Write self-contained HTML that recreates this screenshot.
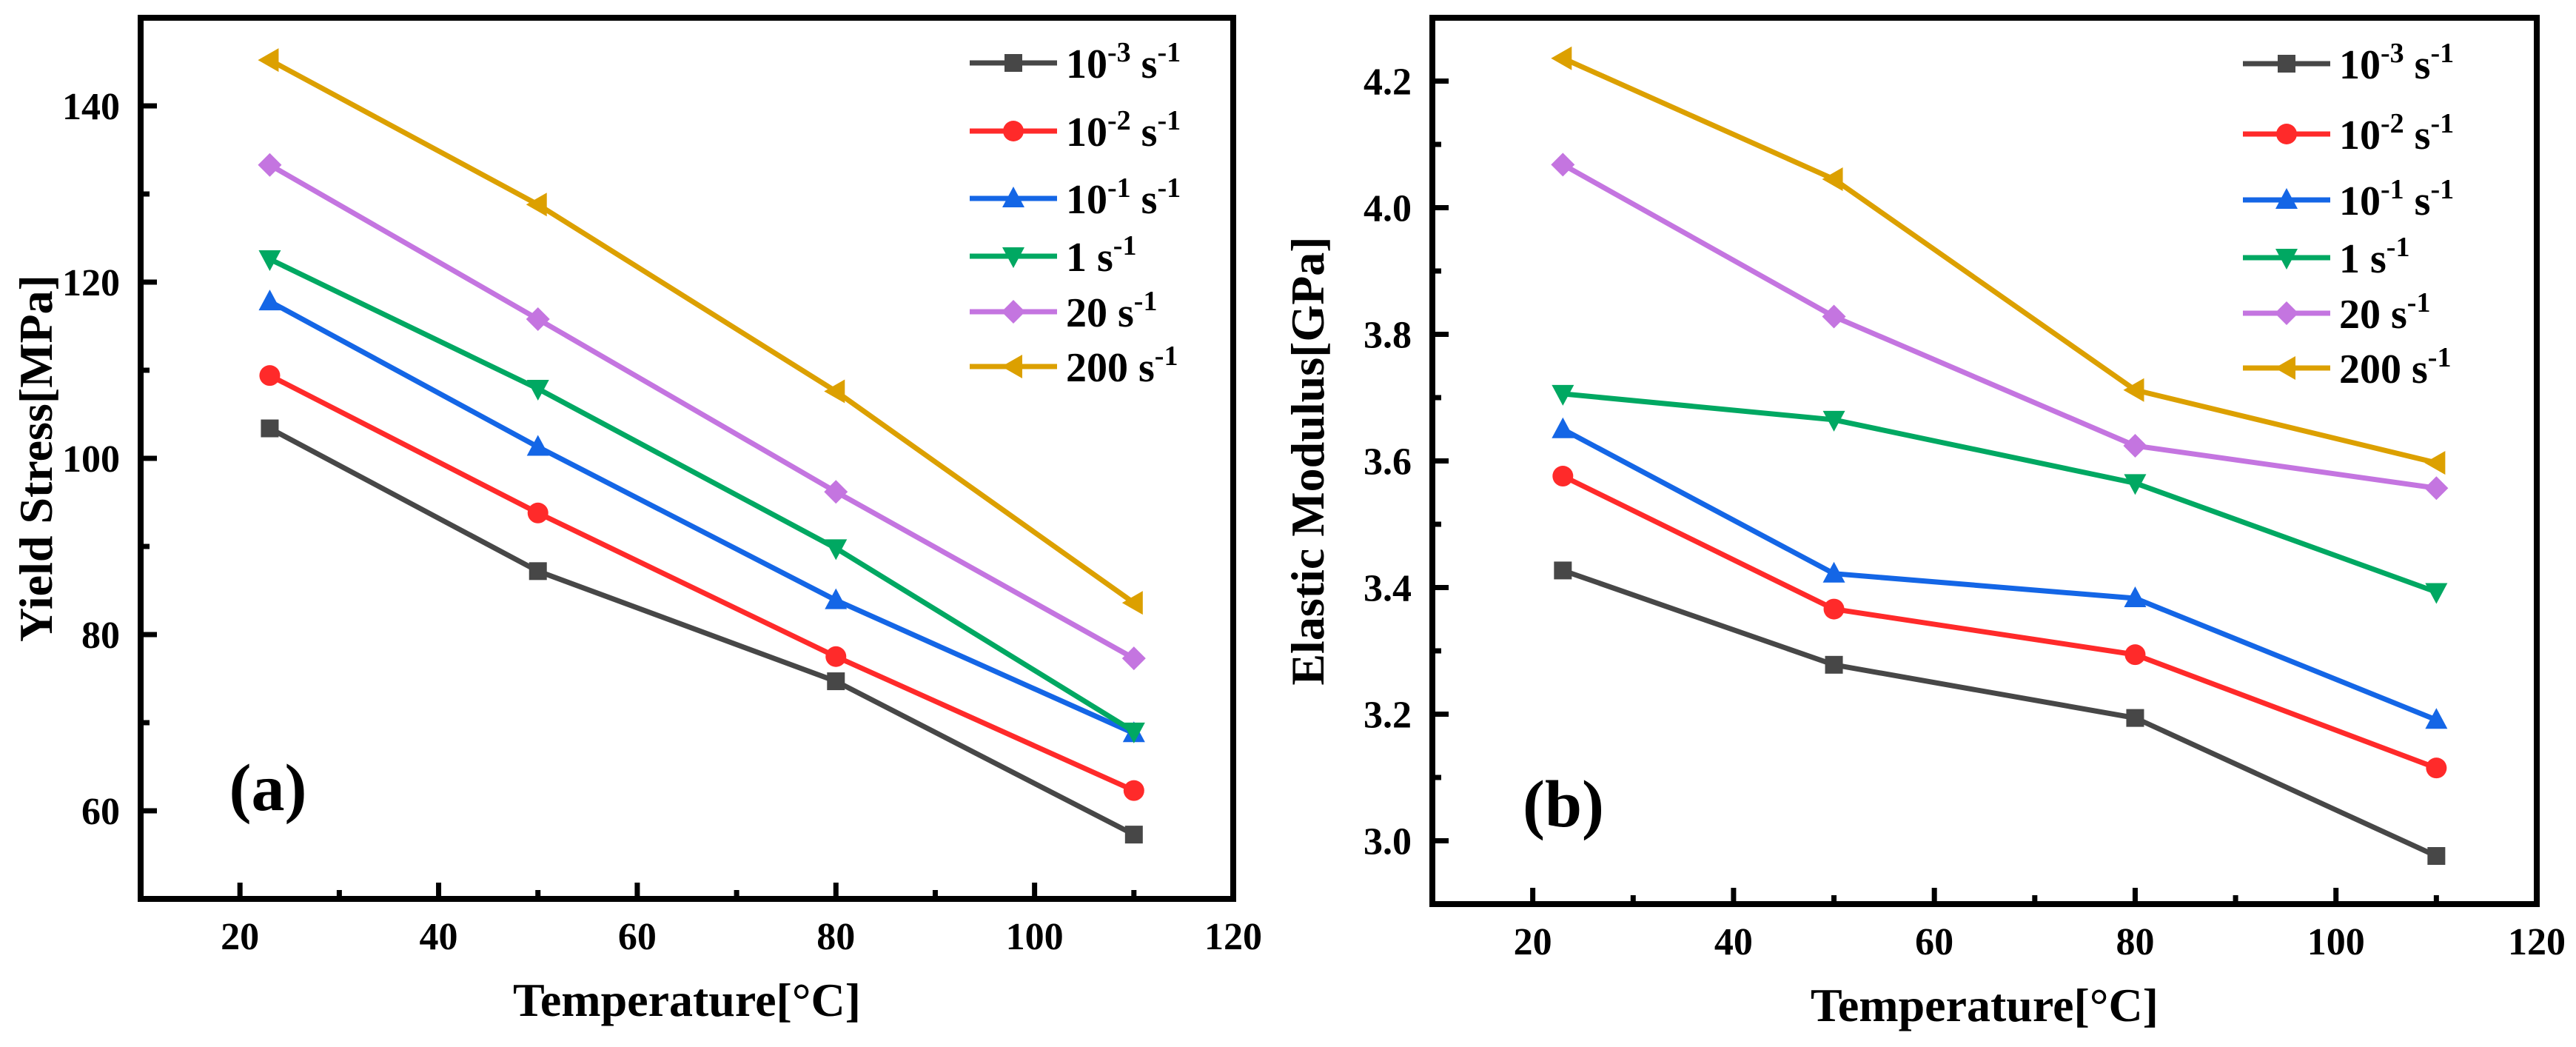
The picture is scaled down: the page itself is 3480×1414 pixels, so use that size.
<!DOCTYPE html>
<html><head><meta charset="utf-8"><style>
html,body{margin:0;padding:0;background:#fff;}
svg{display:block;font-family:"Liberation Serif",serif;font-weight:bold;}
</style></head><body>
<svg id="chart" width="3480" height="1414" viewBox="0 0 3480 1414" xmlns="http://www.w3.org/2000/svg"></svg>
<script>
const temperatures = [23, 50, 80, 110];
const seriesNames = ["10-3", "10-2", "10-1", "1", "20", "200"];
const seriesColors = ["#474747", "#ff2a2a", "#1466e6", "#00a862", "#c475e0", "#dca000"];
const seriesMarkers = ["square", "circle", "up", "down", "diamond", "left"];
const yieldS1 = [103.4, 87.2, 74.7, 57.3];
const yieldS2 = [109.4, 93.8, 77.5, 62.3];
const yieldS3 = [117.8, 101.3, 83.9, 68.8];
const yieldS4 = [122.6, 107.9, 89.8, 69.0];
const yieldS5 = [133.3, 115.8, 96.2, 77.3];
const yieldS6 = [145.2, 128.8, 107.6, 83.6];
const modS1 = [3.427, 3.278, 3.194, 2.976];
const modS2 = [3.576, 3.366, 3.294, 3.115];
const modS3 = [3.650, 3.422, 3.383, 3.191];
const modS4 = [3.706, 3.665, 3.565, 3.393];
const modS5 = [4.068, 3.828, 3.624, 3.557];
const modS6 = [4.236, 4.045, 3.712, 3.597];
const xTicks = [20, 40, 60, 80, 100, 120];
const yTicksA = [60, 80, 100, 120, 140];
const yTicksB = [3.0, 3.2, 3.4, 3.6, 3.8, 4.0, 4.2];

const NS = "http://www.w3.org/2000/svg";
const svg = document.getElementById("chart");
function mk(tag, attrs, parent) {
  const e = document.createElementNS(NS, tag);
  for (const k in attrs) e.setAttribute(k, attrs[k]);
  (parent || svg).appendChild(e);
  return e;
}

function marker(g, type, cx, cy, color) {
  let e;
  if (type === "square") e = mk("rect", {x: cx - 12, y: cy - 12, width: 24, height: 24, fill: color}, g);
  else if (type === "circle") e = mk("circle", {cx: cx, cy: cy, r: 14, fill: color}, g);
  else if (type === "up") e = mk("polygon", {points: `${cx},${cy - 16} ${cx + 15},${cy + 12} ${cx - 15},${cy + 12}`, fill: color}, g);
  else if (type === "down") e = mk("polygon", {points: `${cx},${cy + 16} ${cx + 15},${cy - 12} ${cx - 15},${cy - 12}`, fill: color}, g);
  else if (type === "diamond") e = mk("polygon", {points: `${cx},${cy - 16} ${cx + 16},${cy} ${cx},${cy + 16} ${cx - 16},${cy}`, fill: color}, g);
  else e = mk("polygon", {points: `${cx - 16},${cy} ${cx + 12},${cy - 16} ${cx + 12},${cy + 16}`, fill: color}, g);
  
  
  return e;
}

function panel(cfg) {
  const g = mk("g", {});
  
  
  const {x0, x1, y0, y1, xmin, xmax, ymin, ymax} = cfg;
  const X = v => x0 + (v - xmin) / (xmax - xmin) * (x1 - x0);
  const Y = v => y1 - (v - ymin) / (ymax - ymin) * (y1 - y0);
  cfg.data.forEach((vals, i) => {
    const sg = mk("g", {}, g);
    
    
    const pts = vals.map((v, j) => X(temperatures[j]) + "," + Y(v)).join(" ");
    const pl = mk("polyline", {points: pts, fill: "none", stroke: seriesColors[i], "stroke-width": 7, "stroke-linejoin": "round"}, sg);
    
    
    vals.forEach((v, j) => marker(sg, seriesMarkers[i], X(temperatures[j]), Y(v), seriesColors[i]));
  });
  const fr = mk("rect", {x: x0, y: y0, width: x1 - x0, height: y1 - y0, fill: "none", stroke: "#000", "stroke-width": 8}, g);
  
  
  xTicks.forEach(t => {
    const tk = mk("line", {x1: X(t), x2: X(t), y1: y1, y2: y1 - 22, stroke: "#000", "stroke-width": 7}, g);
    
    
    if (t + 10 < xmax) {
      const mt = mk("line", {x1: X(t + 10), x2: X(t + 10), y1: y1, y2: y1 - 12, stroke: "#000", "stroke-width": 7}, g);
      
      
    }
    const lb = mk("text", {x: X(t), y: y1 + 68, "text-anchor": "middle", "font-size": 52}, g);
    lb.textContent = t;
    
    
  });
  cfg.yTicks.forEach(t => {
    const tk = mk("line", {x1: x0, x2: x0 + 22, y1: Y(t), y2: Y(t), stroke: "#000", "stroke-width": 7}, g);
    
    
    const mv = t + cfg.minor;
    if (mv < ymax - cfg.minor * 0.3) {
      const mt = mk("line", {x1: x0, x2: x0 + 12, y1: Y(mv), y2: Y(mv), stroke: "#000", "stroke-width": 7}, g);
      
      
    }
    const lb = mk("text", {x: x0 - 28, y: Y(t) + 18, "text-anchor": "end", "font-size": 52}, g);
    lb.textContent = cfg.fmt(t);
    
    
  });
  const xt = mk("text", {x: (x0 + x1) / 2, y: y1 + 158, "text-anchor": "middle", "font-size": 64}, g);
  xt.textContent = "Temperature[°C]";
  
  
  const yt = mk("text", {x: 0, y: 0, "text-anchor": "middle", "font-size": 64, transform: `translate(${cfg.ytx},${(y0 + y1) / 2}) rotate(-90)`}, g);
  yt.textContent = cfg.ytitle;
  
  
  const pl = mk("text", {x: cfg.labx, y: cfg.laby, "text-anchor": "middle", "font-size": 90}, g);
  pl.textContent = cfg.label;
  
  
  const lg = mk("g", {}, g);
  
  
  cfg.legRows.forEach((ry, i) => {
    const eg = mk("g", {}, lg);
    
    
    mk("line", {x1: cfg.legX, x2: cfg.legX + 118, y1: ry, y2: ry, stroke: seriesColors[i], "stroke-width": 7}, eg);
    marker(eg, seriesMarkers[i], cfg.legX + 59, ry, seriesColors[i]);
    const t = mk("text", {x: cfg.legX + 130, y: ry + 20, "font-size": 56}, eg);
    const nm = seriesNames[i];
    if (nm.indexOf("-") > 0) {
      const parts = nm.split("-");
      t.appendChild(document.createTextNode(parts[0]));
      const s1 = mk("tspan", {dy: -22, "font-size": 38}, t); s1.textContent = "-" + parts[1];
      const s2 = mk("tspan", {dy: 22, "font-size": 56}, t); s2.textContent = " s";
    } else {
      t.appendChild(document.createTextNode(nm + " s"));
    }
    const s3 = mk("tspan", {dy: -22, "font-size": 38}, t); s3.textContent = "-1";
  });
}

panel({name: "panel-a-yield-stress", x0: 190, x1: 1666, y0: 24, y1: 1214, xmin: 10, xmax: 120, ymin: 50, ymax: 150,
  data: [yieldS1, yieldS2, yieldS3, yieldS4, yieldS5, yieldS6], yTicks: yTicksA, minor: 10, fmt: v => v,
  ytitle: "Yield Stress[MPa]", ytx: 70, label: "(a)", labx: 362, laby: 1094,
  legX: 1310, legRows: [85, 177, 268, 346, 421, 495]});
panel({name: "panel-b-elastic-modulus", x0: 1935, x1: 3427, y0: 24, y1: 1221, xmin: 10, xmax: 120, ymin: 2.9, ymax: 4.3,
  data: [modS1, modS2, modS3, modS4, modS5, modS6], yTicks: yTicksB, minor: 0.1, fmt: v => v.toFixed(1),
  ytitle: "Elastic Modulus[GPa]", ytx: 1788, label: "(b)", labx: 2112, laby: 1116,
  legX: 3030, legRows: [86, 181, 270, 348, 423, 497]});
</script>
</body></html>
